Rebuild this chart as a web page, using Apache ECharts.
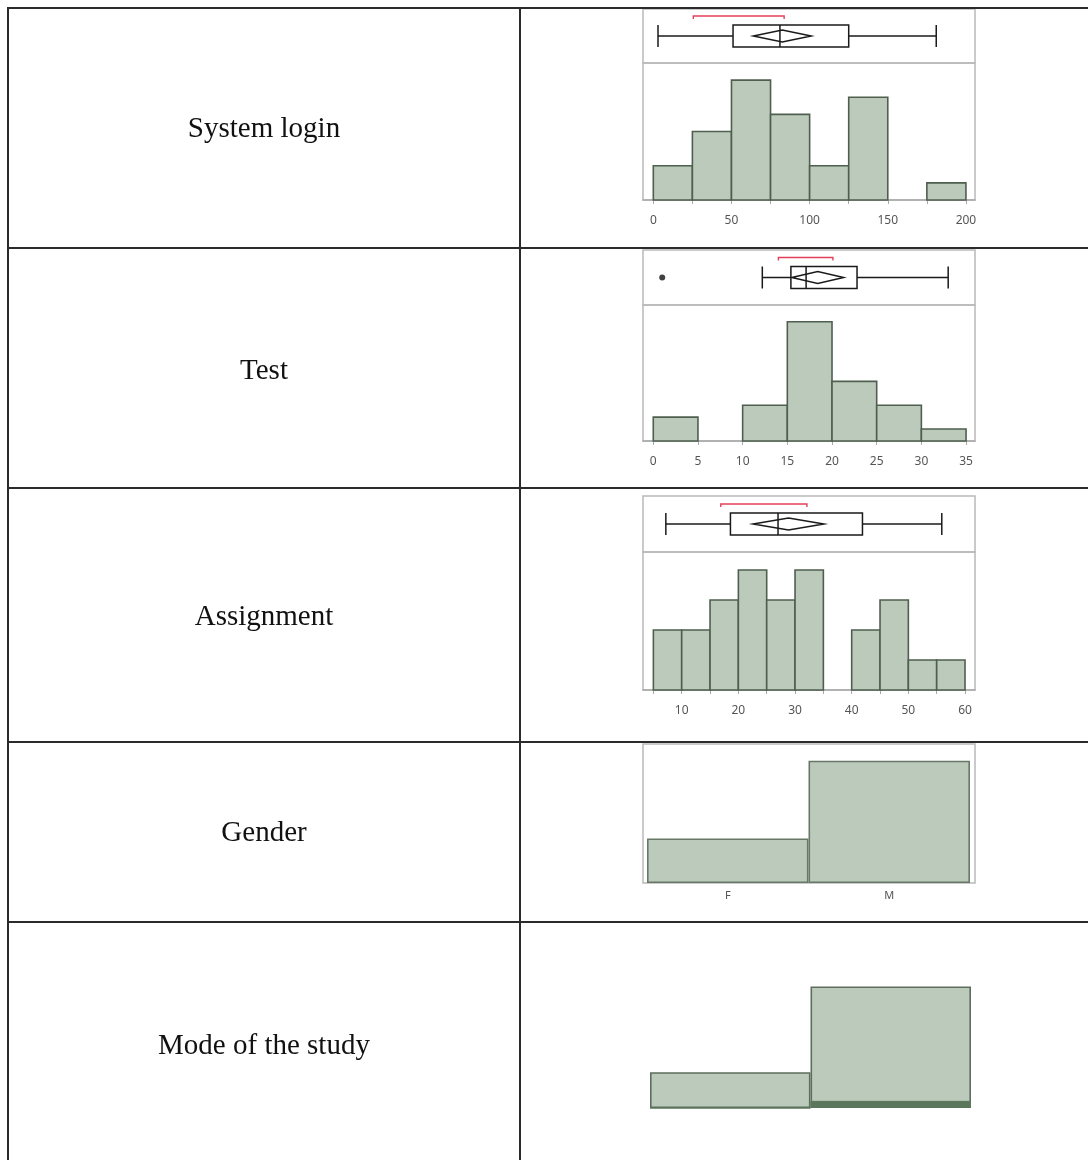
<!DOCTYPE html>
<html><head><meta charset="utf-8">
<script src="https://cdn.jsdelivr.net/npm/echarts@6/dist/echarts.min.js"></script>
<style>html,body{margin:0;padding:0;background:#fff}#c{width:1088px;height:1160px}</style>
</head><body><div id="c"></div>
<script>
// ---------- data ----------
const rowLabels = ['System login', 'Test', 'Assignment', 'Gender', 'Mode of the study'];

const loginEdges = [0, 25, 50, 75, 100, 125, 150, 175, 200];
const loginCounts = [2, 4, 7, 5, 2, 6, 0, 1];
const loginBox = [3, 51, 81, 125, 181];        // min, q1, median, q3, max
const loginMeanCI = [64, 101];
const loginShortest = [25.6, 83.7];
const loginTicks = [0, 50, 100, 150, 200];

const testEdges = [0, 5, 10, 15, 20, 25, 30, 35];
const testCounts = [2, 0, 3, 10, 5, 3, 1];
const testBox = [12.2, 15.4, 17.1, 22.8, 33.0];
const testMeanCI = [15.5, 21.3];
const testShortest = [14.0, 20.1];
const testOutliers = [1.0];
const testTicks = [0, 5, 10, 15, 20, 25, 30, 35];

const assignEdges = [5, 10, 15, 20, 25, 30, 35, 40, 45, 50, 55, 60];
const assignCounts = [2, 2, 3, 4, 3, 4, 0, 2, 3, 1, 1];
const assignBox = [7.2, 18.6, 27.0, 41.9, 55.9];
const assignMeanCI = [22.6, 35.1];
const assignShortest = [16.9, 32.1];
const assignTicks = [10, 20, 30, 40, 50, 60];

const genderCats = ['F', 'M'];
const genderCounts = [8, 22];

const modeCats = ['Mode 1', 'Mode 2'];
const modeCounts = [5, 17];
const modeSelected = [0, 1];

// ---------- styles ----------
const FILL = '#bbcabb', EDGE = '#4f5f4f', FRAME = '#b9b9b9', TABLE = '#2b2b2b';
const LABEL = {color: '#555', fontSize: 12, fontFamily: 'Noto Sans', margin: 15};

function histData(edges, counts) {
  const d = [];
  counts.forEach((c, i) => { if (c > 0) d.push([edges[i], edges[i + 1], c]); });
  return d;
}
function boxData(box, ci, sh) { return [[...box, ci[0], ci[1], sh[0], sh[1], 0.5]]; }

function renderHist(params, api) {
  const a = api.coord([api.value(0), api.value(2)]);
  const b = api.coord([api.value(1), 0]);
  return {type: 'rect', shape: {x: a[0], y: a[1], width: b[0] - a[0], height: b[1] - a[1]},
    style: {fill: FILL, stroke: EDGE, lineWidth: 1.6}};
}
function renderBox(params, api) {
  const v = i => api.value(i);
  const yv = v(9);
  const c = x => api.coord([x, yv]);
  const p0 = c(v(0)), y = p0[1], x0 = p0[0];
  const x1 = c(v(1))[0], xm = c(v(2))[0], x3 = c(v(3))[0], x4 = c(v(4))[0];
  const xl = c(v(5))[0], xh = c(v(6))[0], sl = c(v(7))[0], sh = c(v(8))[0];
  const H = 11, D = 6, B = 20;
  const ls = {stroke: '#1a1a1a', lineWidth: 1.5, fill: null};
  const xc = (xl + xh) / 2;
  return {type: 'group', children: [
    {type: 'line', shape: {x1: x0, y1: y, x2: x1, y2: y}, style: ls},
    {type: 'line', shape: {x1: x3, y1: y, x2: x4, y2: y}, style: ls},
    {type: 'line', shape: {x1: x0, y1: y - H, x2: x0, y2: y + H}, style: ls},
    {type: 'line', shape: {x1: x4, y1: y - H, x2: x4, y2: y + H}, style: ls},
    {type: 'rect', shape: {x: x1, y: y - H, width: x3 - x1, height: 2 * H}, style: {stroke: '#1a1a1a', lineWidth: 1.5, fill: '#fff'}},
    {type: 'line', shape: {x1: xm, y1: y - H, x2: xm, y2: y + H}, style: ls},
    {type: 'polygon', shape: {points: [[xl, y], [xc, y - D], [xh, y], [xc, y + D]]}, style: ls},
    {type: 'polyline', shape: {points: [[sl, y - B + 3], [sl, y - B], [sh, y - B], [sh, y - B + 3]]},
      style: {stroke: '#e3405a', lineWidth: 1.4, fill: null}}
  ]};
}

// ---------- layout ----------
const grids = [
  {left: 643, top: 9, width: 332, height: 54},
  {left: 643, top: 63, width: 332, height: 137},
  {left: 643, top: 250, width: 332, height: 55},
  {left: 643, top: 305, width: 332, height: 136},
  {left: 643, top: 496, width: 332, height: 56},
  {left: 643, top: 552, width: 332, height: 138},
  {left: 647, top: 744, width: 323, height: 139},
  {left: 650, top: 965, width: 321, height: 143}
].map((g, i) => Object.assign({show: i < 6, borderColor: FRAME, borderWidth: 1.5, backgroundColor: 'transparent'}, g));

const ranges = [[-6.6, 205.8], [-1.15, 36.0], [3.17, 61.76]];
const ticks = [loginTicks, testTicks, assignTicks];
const edgesAll = [loginEdges, testEdges, assignEdges];
const yMax = [8, 11.4, 4.6];

const xAxes = [], yAxes = [];
for (let k = 0; k < 3; k++) {
  xAxes.push({type: 'value', gridIndex: 2 * k, min: ranges[k][0], max: ranges[k][1], show: false});
  yAxes.push({type: 'value', gridIndex: 2 * k, min: 0, max: 1, show: false});
  xAxes.push({type: 'value', gridIndex: 2 * k + 1, min: ranges[k][0], max: ranges[k][1],
    splitLine: {show: false},
    axisLine: {show: true, onZero: false, lineStyle: {color: '#a9a9a9', width: 1.5}},
    axisTick: {show: true, customValues: edgesAll[k], length: 4, lineStyle: {color: '#a9a9a9'}},
    axisLabel: Object.assign({customValues: ticks[k]}, LABEL)});
  yAxes.push({type: 'value', gridIndex: 2 * k + 1, min: 0, max: yMax[k], show: false});
}
xAxes.push({type: 'category', gridIndex: 6, data: genderCats, axisLine: {show: false}, axisTick: {show: false},
  axisLabel: {color: '#555', fontSize: 11, fontFamily: 'Noto Sans', margin: 7}});
yAxes.push({type: 'value', gridIndex: 6, min: 0, max: 25, show: false});
xAxes.push({type: 'category', gridIndex: 7, data: modeCats, show: false});
yAxes.push({type: 'value', gridIndex: 7, min: 0, max: 20, show: false});

const series = [];
const hists = [[loginEdges, loginCounts], [testEdges, testCounts], [assignEdges, assignCounts]];
const boxes = [[loginBox, loginMeanCI, loginShortest], [testBox, testMeanCI, testShortest], [assignBox, assignMeanCI, assignShortest]];
for (let k = 0; k < 3; k++) {
  series.push({type: 'custom', xAxisIndex: 2 * k, yAxisIndex: 2 * k, renderItem: renderBox,
    encode: {x: [0, 1, 2, 3, 4, 5, 6, 7, 8], y: 9}, data: boxData(...boxes[k])});
  series.push({type: 'custom', xAxisIndex: 2 * k + 1, yAxisIndex: 2 * k + 1, renderItem: renderHist,
    encode: {x: [0, 1], y: 2}, data: histData(...hists[k])});
}
series.push({type: 'scatter', xAxisIndex: 2, yAxisIndex: 2, symbolSize: 6, itemStyle: {color: '#111'},
  data: testOutliers.map(v => [v, 0.5])});
series.push({type: 'bar', xAxisIndex: 6, yAxisIndex: 6, barCategoryGap: '0%', data: genderCounts,
  itemStyle: {color: FILL, borderColor: '#687868', borderWidth: 1.6}});
series.push({type: 'bar', xAxisIndex: 7, yAxisIndex: 7, barCategoryGap: '0%', barGap: '-100%', data: modeCounts,
  itemStyle: {color: FILL, borderColor: '#5e6e5e', borderWidth: 1.6}});
series.push({type: 'bar', xAxisIndex: 7, yAxisIndex: 7, barCategoryGap: '0%', barGap: '-100%', data: modeSelected,
  itemStyle: {color: '#5b765b', borderColor: '#5b765b', borderWidth: 1}});

// ---------- table graphics ----------
const rowLines = [8, 248, 488, 742, 922];
const rowTextY = [128, 370, 616, 832, 1045];
const graphic = [];
rowLines.forEach(y => graphic.push({type: 'line', shape: {x1: 8, y1: y, x2: 1088, y2: y}, style: {stroke: TABLE, lineWidth: 2}, z: 10}));
graphic.push({type: 'line', shape: {x1: 8, y1: 7, x2: 8, y2: 1160}, style: {stroke: TABLE, lineWidth: 2}, z: 10});
graphic.push({type: 'line', shape: {x1: 520, y1: 7, x2: 520, y2: 1160}, style: {stroke: TABLE, lineWidth: 2}, z: 10});
graphic.push({type: 'rect', shape: {x: 643, y: 744, width: 332, height: 139}, style: {fill: null, stroke: FRAME, lineWidth: 1.5}, z: 0});
rowLabels.forEach((t, i) => graphic.push({type: 'text', x: 264, y: rowTextY[i] + 1, z: 10,
  style: {text: t, font: '29px "Liberation Serif"', fill: '#111', align: 'center', verticalAlign: 'middle',
    textAlign: 'center', textVerticalAlign: 'middle'}}));

const chart = echarts.init(document.getElementById('c'), null, {renderer: 'canvas'});
chart.setOption({animation: false, backgroundColor: '#fff', grid: grids, xAxis: xAxes, yAxis: yAxes, series, graphic});
</script></body></html>
